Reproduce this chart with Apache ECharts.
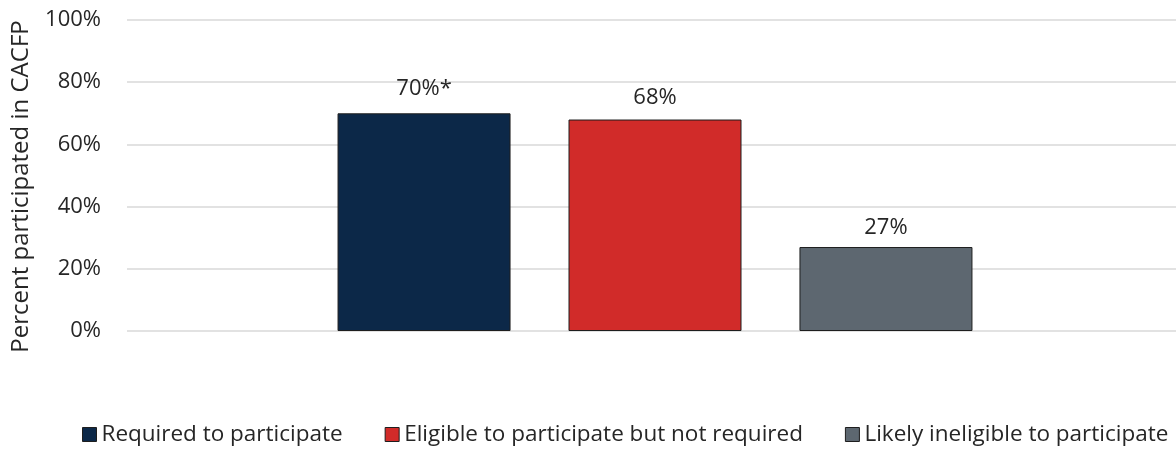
<!DOCTYPE html>
<html>
<head>
<meta charset="utf-8">
<script src="https://cdn.jsdelivr.net/npm/echarts@6/dist/echarts.min.js"></script>
<style>
  html, body { margin: 0; padding: 0; background: #fff; }
  #chart { width: 1176px; height: 449px; }
</style>
</head>
<body>
<div id="chart"></div>
<script>
// CACFP participation by requirement status
const categories = ['All'];
const seriesNames = ['Required to participate', 'Eligible to participate but not required', 'Likely ineligible to participate'];
const seriesValues = [[70], [68], [27]];
const seriesLabels = ['70%*', '68%', '27%'];
const seriesColors = ['#0c2848', '#d12b29', '#5d6770'];
const yTicks = [0, 20, 40, 60, 80, 100];

const FONT = '"Open Sans", "Noto Sans", sans-serif';
const TEXT = '#262626';
const labelDistances = [14, 11, 8];

const chart = echarts.init(document.getElementById('chart'), null, { renderer: 'canvas' });

const series = seriesNames.map((name, i) => ({
  name: name,
  type: 'bar',
  data: seriesValues[i],
  barWidth: 173,
  barGap: '33.5%',
  itemStyle: { color: seriesColors[i], borderColor: '#1e1e1e', borderWidth: 1 },
  label: {
    show: true,
    position: 'top',
    distance: labelDistances[i],
    formatter: () => seriesLabels[i],
    fontFamily: FONT,
    fontSize: 22,
    color: TEXT
  }
}));

chart.setOption({
  animation: false,
  backgroundColor: '#fff',
  grid: { left: 127, right: -7, top: 20, bottom: 118, outerBoundsMode: 'none' },
  legend: {
    data: seriesNames,
    left: 82,
    top: 423,
    width: 1120,
    padding: 0,
    icon: 'rect',
    itemWidth: 14,
    itemHeight: 14,
    itemGap: 42,
    itemStyle: { borderColor: '#1e1e1e', borderWidth: 1 },
    textStyle: { fontFamily: FONT, fontSize: 22.5, color: TEXT }
  },
  xAxis: {
    type: 'category',
    data: categories,
    axisLine: { show: false },
    axisTick: { show: false },
    axisLabel: { show: false }
  },
  yAxis: {
    type: 'value',
    min: yTicks[0],
    max: yTicks[yTicks.length - 1],
    interval: 20,
    name: 'Percent participated in CACFP',
    nameLocation: 'middle',
    nameGap: 94,
    nameRotate: 90,
    nameTextStyle: { fontFamily: FONT, fontSize: 24, color: TEXT, padding: [0, 22, 0, 0] },
    axisLine: { show: false },
    axisTick: { show: false },
    axisLabel: {
      formatter: v => v + '%',
      fontFamily: FONT,
      fontSize: 22,
      color: TEXT,
      margin: 26
    },
    splitLine: { lineStyle: { color: '#d9d9d9', width: 1.5 } }
  },
  series: series
});
</script>
</body>
</html>
